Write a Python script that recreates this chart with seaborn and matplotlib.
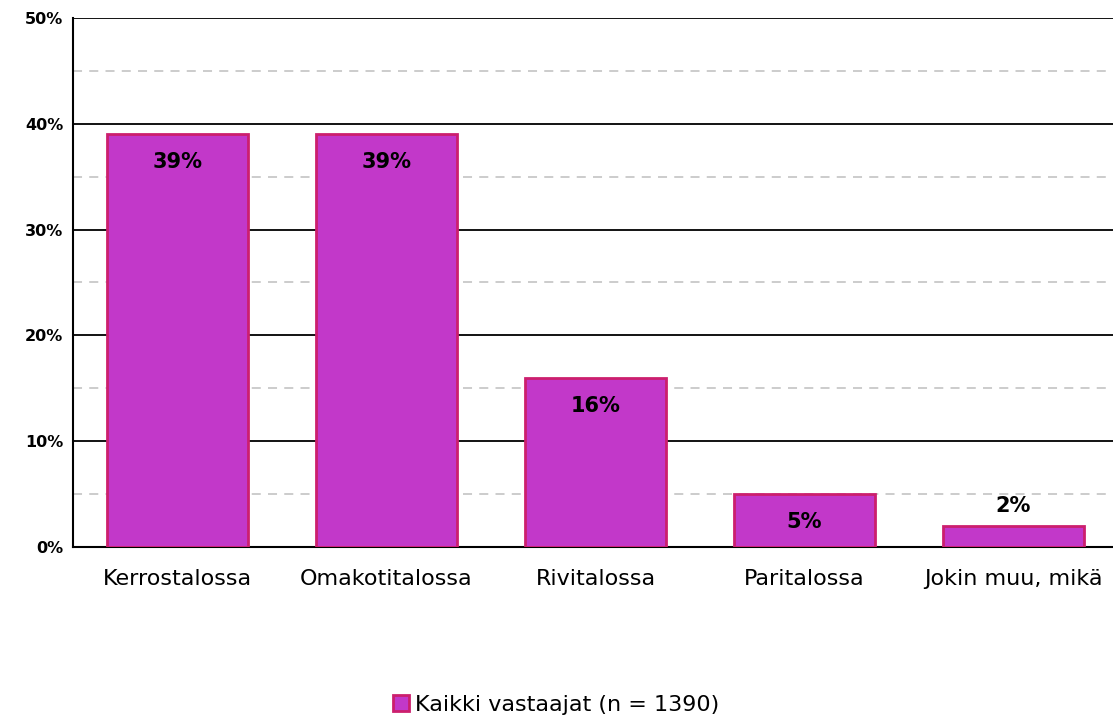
import matplotlib
matplotlib.use("Agg")
import matplotlib.pyplot as plt
import seaborn as sns
import pandas as pd
from matplotlib.ticker import MultipleLocator, FuncFormatter

categories = ["Kerrostalossa", "Omakotitalossa", "Rivitalossa", "Paritalossa", "Jokin muu, mikä"]
values = [39, 39, 16, 5, 2]
series_name = "Kaikki vastaajat (n = 1390)"

df = pd.DataFrame({"cat": categories, "val": values, "series": series_name})

sns.set_theme(style="white")
plt.rcParams['font.family'] = ['DejaVu Sans']
plt.rcParams['text.color'] = 'black'

fill = "#C238C9"
edge = "#CC1F6E"

fig = plt.figure(figsize=(11.13, 7.2), dpi=100)
ax = fig.add_axes([73/1113, (720-547)/720, 1045/1113, (547-18)/720])

sns.barplot(data=df, x="cat", y="val", hue="series", palette=[fill], width=0.67,
            edgecolor=edge, linewidth=2, saturation=1, ax=ax, zorder=3, legend=True)

ax.set_ylim(0, 50)
ax.set_xlim(-0.5, 4.5)
ax.yaxis.set_major_locator(MultipleLocator(10))
ax.yaxis.set_minor_locator(MultipleLocator(5))
ax.yaxis.set_major_formatter(FuncFormatter(lambda v, p: f"{int(v)}%"))
ax.grid(axis="y", which="major", color="black", linewidth=1.3, zorder=0)
ax.grid(axis="y", which="minor", color="#C8C8C8", linewidth=1.3, linestyle=(0, (5, 4)), zorder=0)
ax.grid(axis="x", visible=False)
ax.set_axisbelow(True)

for s in ["top", "right"]:
    ax.spines[s].set_visible(False)
ax.spines["left"].set_color("black")
ax.spines["left"].set_linewidth(1.5)
ax.spines["bottom"].set_color("black")
ax.spines["bottom"].set_linewidth(1.5)

ax.set_xlabel("")
ax.set_ylabel("")
ax.tick_params(axis="y", which="both", length=0, pad=7, labelsize=11.5, labelcolor="black")
for t in ax.get_yticklabels():
    t.set_fontweight("bold")
ax.tick_params(axis="x", length=0, pad=16, labelsize=16, labelcolor="black")

for bar, v in zip(ax.patches, values):
    cx = bar.get_x() + bar.get_width() / 2
    off = -28 if v >= 4 else 20
    ax.annotate(f"{v}%", (cx, v), xytext=(0, off), textcoords="offset pixels",
                ha="center", va="center", fontsize=15, fontweight="bold", color="black", zorder=5)

leg = ax.legend(loc="center", bbox_to_anchor=(0.5, 15/720), bbox_transform=fig.transFigure,
                frameon=False, fontsize=16, handlelength=0.7, handleheight=0.7, handletextpad=0.3)
for t in leg.get_texts():
    t.set_color("black")

fig.savefig("out.png", dpi=100)
